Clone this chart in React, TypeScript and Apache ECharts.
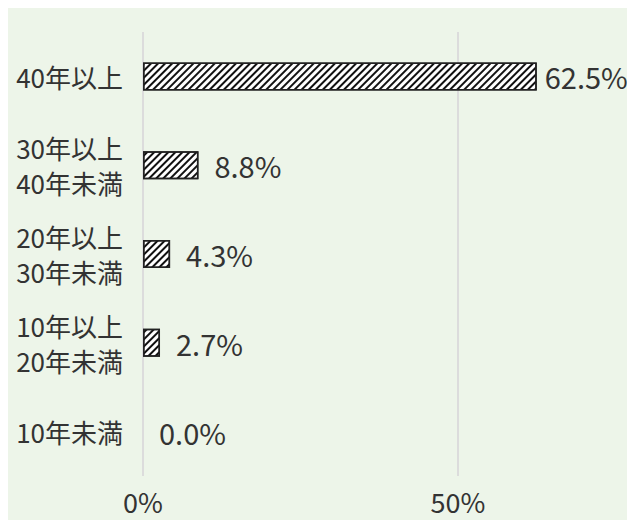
import React, { useEffect, useRef } from "react";
import * as echarts from "echarts";

const categories = ["40年以上", "30年以上\n40年未満", "20年以上\n30年未満", "10年以上\n20年未満", "10年未満"];
const values = [62.5, 8.8, 4.3, 2.7, 0.0];
const xTicks = [0, 50];

const FONT = "'Noto Sans CJK JP', 'Noto Sans', sans-serif";

export default function App() {
  const ref = useRef<HTMLDivElement>(null);
  useEffect(() => {
    if (!ref.current) return;
    const chart = echarts.init(ref.current, undefined, { renderer: "svg" });
    chart.setOption({
      animation: false,
      backgroundColor: "#edf5e9",
      grid: { left: 135, top: 32, bottom: 52, right: 11.5, containLabel: false },
      xAxis: {
        type: "value",
        min: 0,
        max: 75,
        interval: 50,
        axisLine: { show: false },
        axisTick: { show: false },
        splitLine: {
          show: true,
          lineStyle: { color: ["#dcdcdc", "#dcdcdc", "rgba(0,0,0,0)"], width: 2 },
        },
        axisLabel: {
          margin: 12,
          fontSize: 27,
          color: "#333",
          fontFamily: FONT,
          showMaxLabel: false,
          formatter: (v: number) => (xTicks.includes(v) ? v + "%" : ""),
        },
      },
      yAxis: {
        type: "category",
        inverse: true,
        data: categories,
        axisLine: { show: false },
        axisTick: { show: false },
        axisLabel: {
          margin: 20,
          fontSize: 26,
          lineHeight: 35,
          color: "#333",
          fontFamily: FONT,
          align: "right",
        },
      },
      series: [
        {
          type: "bar",
          data: values.map((v, i) => ({
            value: v,
            label: { distance: i === 0 ? 8 : 16 },
            itemStyle: v === 0 ? { borderWidth: 0 } : undefined,
          })),
          barWidth: 28,
          itemStyle: {
            color: "#ffffff",
            borderColor: "#222",
            borderWidth: 1.5,
            decal: {
              symbol: "rect",
              color: "#111",
              backgroundColor: "#ffffff",
              dashArrayX: [1, 0],
              dashArrayY: [1.8, 2.4],
              rotation: -Math.PI / 4,
              symbolSize: 1,
            },
          },
          label: {
            show: true,
            position: "right",
            fontSize: 29,
            color: "#333",
            fontFamily: FONT,
            formatter: (p: any) => p.value.toFixed(1) + "%",
          },
        },
      ],
    });
    return () => chart.dispose();
  }, []);
  return <div ref={ref} style={{ width: 619, height: 528, marginTop: -8 }} />;
}
